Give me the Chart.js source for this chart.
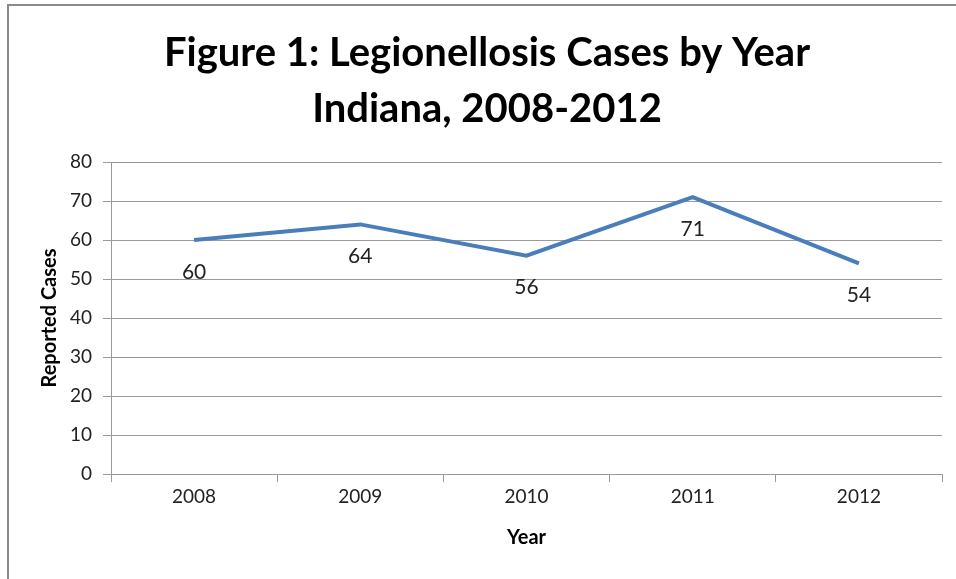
<!DOCTYPE html>
<html>
<head>
<meta charset="utf-8">
<script src="https://cdn.jsdelivr.net/npm/chart.js@4/dist/chart.umd.min.js"></script>
<style>
  html, body { margin: 0; padding: 0; background: #fff; }
  #wrap { position: relative; width: 956px; height: 579px; overflow: hidden; }
  #frame { position: absolute; left: 7px; top: 4px; width: 1000px; height: 700px; border: 2px solid #8a8a8a; box-sizing: border-box; pointer-events: none; }
  canvas { position: absolute; left: 0; top: 0; }
</style>
</head>
<body>
<div id="wrap">
  <canvas id="c" width="956" height="579"></canvas>
  <div id="frame"></div>
</div>
<script>
const titleLines = ["Figure 1: Legionellosis Cases by Year", "Indiana, 2008-2012"];
const years = ["2008", "2009", "2010", "2011", "2012"];
const reportedCases = [60, 64, 56, 71, 54];
const yAxisTitle = "Reported Cases";
const xAxisTitle = "Year";

const FONT = "Lato, 'Open Sans', sans-serif";

const dataLabels = {
  id: 'dataLabels',
  afterDatasetsDraw(chart) {
    const ctx = chart.ctx;
    const meta = chart.getDatasetMeta(0);
    ctx.save();
    ctx.font = "21px " + FONT;
    ctx.fillStyle = "#222";
    ctx.textAlign = "center";
    ctx.textBaseline = "middle";
    meta.data.forEach((pt, i) => {
      ctx.fillText(String(chart.data.datasets[0].data[i]), pt.x, pt.y + 32);
    });
    ctx.restore();
  }
};

new Chart(document.getElementById('c'), {
  type: 'line',
  data: {
    labels: years,
    datasets: [{
      data: reportedCases,
      borderColor: '#4a7ebb',
      borderWidth: 4,
      pointRadius: 0,
      tension: 0,
      fill: false
    }]
  },
  options: {
    responsive: false,
    animation: false,
    layout: { padding: { left: 32, right: 14, top: 0, bottom: 0 } },
    plugins: {
      legend: { display: false },
      tooltip: { enabled: false },
      title: {
        display: true,
        text: titleLines,
        color: '#000',
        font: { family: FONT, size: 40, weight: 'bold', lineHeight: '56px' },
        padding: { top: 25, bottom: 25 }
      }
    },
    scales: {
      x: {
        offset: true,
        afterFit(scale) { scale.height = 105; },
        grid: { offset: true, drawOnChartArea: false, color: '#9a9a9a', tickLength: 8 },
        border: { color: '#9a9a9a', width: 1 },
        ticks: { color: '#222', font: { family: FONT, size: 19 }, padding: 3 },
        title: {
          display: true, text: xAxisTitle, color: '#000',
          font: { family: FONT, size: 20, weight: 'bold' },
          padding: { top: 4, bottom: 29 }
        }
      },
      y: {
        min: 0, max: 80,
        afterFit(scale) { scale.width = 79; },
        ticks: { stepSize: 10, color: '#222', font: { family: FONT, size: 19 }, padding: 11 },
        grid: { color: '#9a9a9a', tickLength: 8 },
        border: { color: '#9a9a9a', width: 1 },
        title: {
          display: true, text: yAxisTitle, color: '#000',
          font: { family: FONT, size: 20, weight: 'bold' },
          padding: { top: 6, bottom: 4 }
        }
      }
    }
  },
  plugins: [dataLabels]
});
</script>
</body>
</html>
